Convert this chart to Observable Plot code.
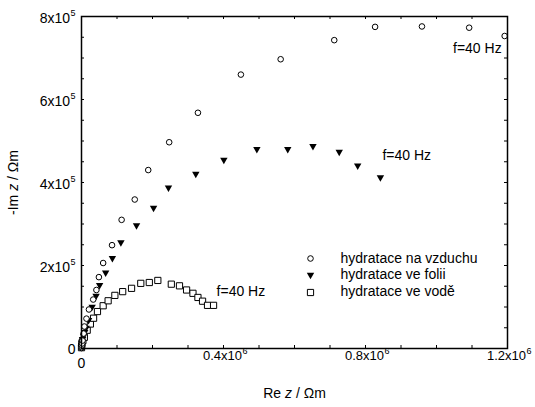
<!DOCTYPE html>
<html><head><meta charset="utf-8">
<script src="https://cdn.jsdelivr.net/npm/d3@7"></script>
<script src="https://cdn.jsdelivr.net/npm/@observablehq/plot@0.6"></script>
<style>body{margin:0;background:#fff}svg{display:block}</style>
</head><body><div id="chart"></div>
<script>
// Series: Re z (Ωm) and -Im z (Ωm)
const seriesNames = ["hydratace na vzduchu", "hydratace ve folii", "hydratace ve vodě"];
const reVzduch = [0, 0.0005e6, 0.001e6, 0.002e6, 0.003e6, 0.006e6, 0.008e6, 0.014e6, 0.021e6, 0.033e6, 0.042e6, 0.049e6, 0.061e6, 0.086e6, 0.113e6, 0.150e6, 0.188e6, 0.247e6, 0.328e6, 0.449e6, 0.561e6, 0.712e6, 0.827e6, 0.959e6, 1.092e6, 1.192e6];
const imVzduch = [0.01e5, 0.03e5, 0.07e5, 0.12e5, 0.19e5, 0.36e5, 0.53e5, 0.72e5, 0.94e5, 1.18e5, 1.41e5, 1.72e5, 2.06e5, 2.49e5, 3.10e5, 3.59e5, 4.30e5, 4.97e5, 5.68e5, 6.60e5, 6.97e5, 7.43e5, 7.75e5, 7.76e5, 7.73e5, 7.53e5];
const reFolie = [0, 0.0005e6, 0.001e6, 0.002e6, 0.003e6, 0.006e6, 0.009e6, 0.013e6, 0.020e6, 0.030e6, 0.041e6, 0.051e6, 0.068e6, 0.087e6, 0.111e6, 0.155e6, 0.203e6, 0.245e6, 0.322e6, 0.401e6, 0.494e6, 0.581e6, 0.652e6, 0.726e6, 0.778e6, 0.842e6];
const imFolie = [0.02e5, 0.06e5, 0.12e5, 0.16e5, 0.21e5, 0.29e5, 0.38e5, 0.48e5, 0.67e5, 0.99e5, 1.25e5, 1.51e5, 1.81e5, 2.16e5, 2.54e5, 2.95e5, 3.37e5, 3.86e5, 4.19e5, 4.53e5, 4.79e5, 4.79e5, 4.86e5, 4.72e5, 4.39e5, 4.11e5];
const reVoda = [0, 0.0005e6, 0.001e6, 0.004e6, 0.008e6, 0.016e6, 0.025e6, 0.034e6, 0.045e6, 0.061e6, 0.075e6, 0.094e6, 0.116e6, 0.141e6, 0.167e6, 0.191e6, 0.215e6, 0.253e6, 0.276e6, 0.296e6, 0.314e6, 0.328e6, 0.341e6, 0.355e6, 0.372e6];
const imVoda = [0.02e5, 0.06e5, 0.12e5, 0.19e5, 0.27e5, 0.44e5, 0.59e5, 0.73e5, 0.89e5, 1.03e5, 1.15e5, 1.28e5, 1.37e5, 1.45e5, 1.57e5, 1.59e5, 1.64e5, 1.55e5, 1.51e5, 1.41e5, 1.33e5, 1.23e5, 1.14e5, 1.04e5, 1.04e5];

const annotText = "f=40 Hz";
const xMinorTicks = d3.range(0, 13).map(i => i * 1e5);
const yMinorTicks = d3.range(0, 17).map(i => i * 0.5e5);
const xTickValues = [0, 0.4e6, 0.8e6, 1.2e6];
const xTickBase = ["0", "0.4x10", "0.8x10", "1.2x10"];
const xTickExp = ["", "6", "6", "6"];
const yTickValues = [0, 2e5, 4e5, 6e5, 8e5];
const yTickBase = ["0", "2x10", "4x10", "6x10", "8x10"];
const yTickExp = ["", "5", "5", "5", "5"];
const xTitle = "Re z / Ωm";
const yTitle = "-Im z / Ωm";

const zip = (xs, ys) => xs.map((x, i) => ({x, y: ys[i]}));
const vzduch = zip(reVzduch, imVzduch);
const folie = zip(reFolie, imFolie);
const voda = zip(reVoda, imVoda);
const xLab = xTickValues.map((v, i) => ({v, base: xTickBase[i], exp: xTickExp[i]}));
const yLab = yTickValues.map((v, i) => ({v, base: yTickBase[i], exp: yTickExp[i]}));

const W = 535, H = 407, mt = 16, mb = 59, ml = 81, mr = 28;
const fh = H - mt - mb, fw = W - ml - mr, tl = 3;
const font = "'Liberation Sans', Arial, Helvetica, sans-serif";

const triDown = {draw(ctx, size) {
  const r = Math.sqrt(size / Math.PI);
  ctx.moveTo(-r, -0.75 * r); ctx.lineTo(r, -0.75 * r); ctx.lineTo(0, r); ctx.closePath();
}};
const circleStyle = {symbol: "circle", r: 2.8, fill: "white", stroke: "black", strokeWidth: 1};
const triStyle = {symbol: triDown, r: 3.7, fill: "black", stroke: "none"};
const squareStyle = {symbol: "square", r: 3.5, fill: "white", stroke: "black", strokeWidth: 1};
const styles = [circleStyle, triStyle, squareStyle];

const legendMarks = [];
seriesNames.forEach((name, i) => {
  legendMarks.push(Plot.dot([name], {frameAnchor: "top-left", dx: 229, dy: 242 + i * 17, ...styles[i]}));
  legendMarks.push(Plot.text([name], {frameAnchor: "top-left", dx: 259, dy: 242 + i * 16.5, text: d => d, textAnchor: "start", lineAnchor: "middle", fontSize: 14, fill: "black"}));
});

const plot = Plot.plot({
  width: W, height: H,
  marginTop: mt, marginBottom: mb, marginLeft: ml, marginRight: mr,
  style: {fontFamily: font, background: "white", color: "black"},
  x: {domain: [0, 1.2e6], axis: null},
  y: {domain: [0, 8e5], axis: null},
  marks: [
    Plot.ruleX(xMinorTicks, {x: d => d, insetTop: fh - tl, stroke: "black"}),
    Plot.ruleX(xMinorTicks, {x: d => d, insetBottom: fh - tl, stroke: "black"}),
    Plot.ruleY(yMinorTicks, {y: d => d, insetRight: fw - tl, stroke: "black"}),
    Plot.ruleY(yMinorTicks, {y: d => d, insetLeft: fw - tl, stroke: "black"}),
    Plot.dot(voda, {x: "x", y: "y", ...squareStyle}),
    Plot.dot(folie, {x: "x", y: "y", ...triStyle}),
    Plot.dot(vzduch, {x: "x", y: "y", ...circleStyle}),
    Plot.frame({stroke: "black", strokeWidth: 1.5}),
    // tick labels
    Plot.text(xLab.filter(d => d.exp), {x: "v", text: "base", frameAnchor: "bottom", textAnchor: "end", lineAnchor: "middle", dx: 18.5, dy: 7, fontSize: 13, fill: "black"}),
    Plot.text(xLab.filter(d => d.exp), {x: "v", text: "exp", frameAnchor: "bottom", textAnchor: "start", lineAnchor: "middle", dx: 19, dy: 2.5, fontSize: 9, fill: "black"}),
    Plot.text(xLab.filter(d => !d.exp), {x: "v", text: "base", frameAnchor: "bottom", textAnchor: "middle", lineAnchor: "middle", dy: 15, fontSize: 14, fill: "black"}),
    Plot.text(yLab.filter(d => d.exp), {y: "v", text: "base", frameAnchor: "left", textAnchor: "end", lineAnchor: "middle", dx: -11.5, dy: 2.5, fontSize: 14, fill: "black"}),
    Plot.text(yLab.filter(d => d.exp), {y: "v", text: "exp", frameAnchor: "left", textAnchor: "end", lineAnchor: "middle", dx: -6, dy: -3, fontSize: 9, fill: "black"}),
    Plot.text(yLab.filter(d => !d.exp), {y: "v", text: "base", frameAnchor: "left", textAnchor: "end", lineAnchor: "middle", dx: -6, dy: 1, fontSize: 14, fill: "black"}),
    // axis titles
    Plot.text([xTitle], {frameAnchor: "bottom", text: d => d, textAnchor: "middle", lineAnchor: "middle", dy: 45, fontSize: 14, fill: "black"}),
    Plot.text([yTitle], {frameAnchor: "left", text: d => d, textAnchor: "middle", lineAnchor: "middle", rotate: -90, dx: -68, fontSize: 14, fill: "black"}),
    // annotations
    Plot.text([vzduch[vzduch.length - 1]], {x: "x", y: "y", text: () => annotText, textAnchor: "end", lineAnchor: "middle", dx: -3, dy: 13, fontSize: 14, fill: "black"}),
    Plot.text([folie[folie.length - 1]], {x: "x", y: "y", text: () => annotText, textAnchor: "start", lineAnchor: "middle", dx: 2, dy: -22, fontSize: 14, fill: "black"}),
    Plot.text([voda[voda.length - 1]], {x: "x", y: "y", text: () => annotText, textAnchor: "start", lineAnchor: "middle", dx: 3, dy: -14, fontSize: 14, fill: "black"}),
    ...legendMarks
  ]
});
document.getElementById("chart").append(plot);

// italicise the variable "z" in axis titles
d3.select(plot).selectAll("text").each(function() {
  const t = this.textContent;
  if (t === xTitle || t === yTitle) {
    const parts = t.split(" z ");
    const sel = d3.select(this);
    const tsp = sel.selectAll("tspan").empty() ? sel : sel.select("tspan");
    tsp.text(null);
    tsp.append("tspan").text(parts[0] + " ");
    tsp.append("tspan").attr("font-style", "italic").text("z");
    tsp.append("tspan").text(" " + parts[1]);
  }
});
</script></body></html>
